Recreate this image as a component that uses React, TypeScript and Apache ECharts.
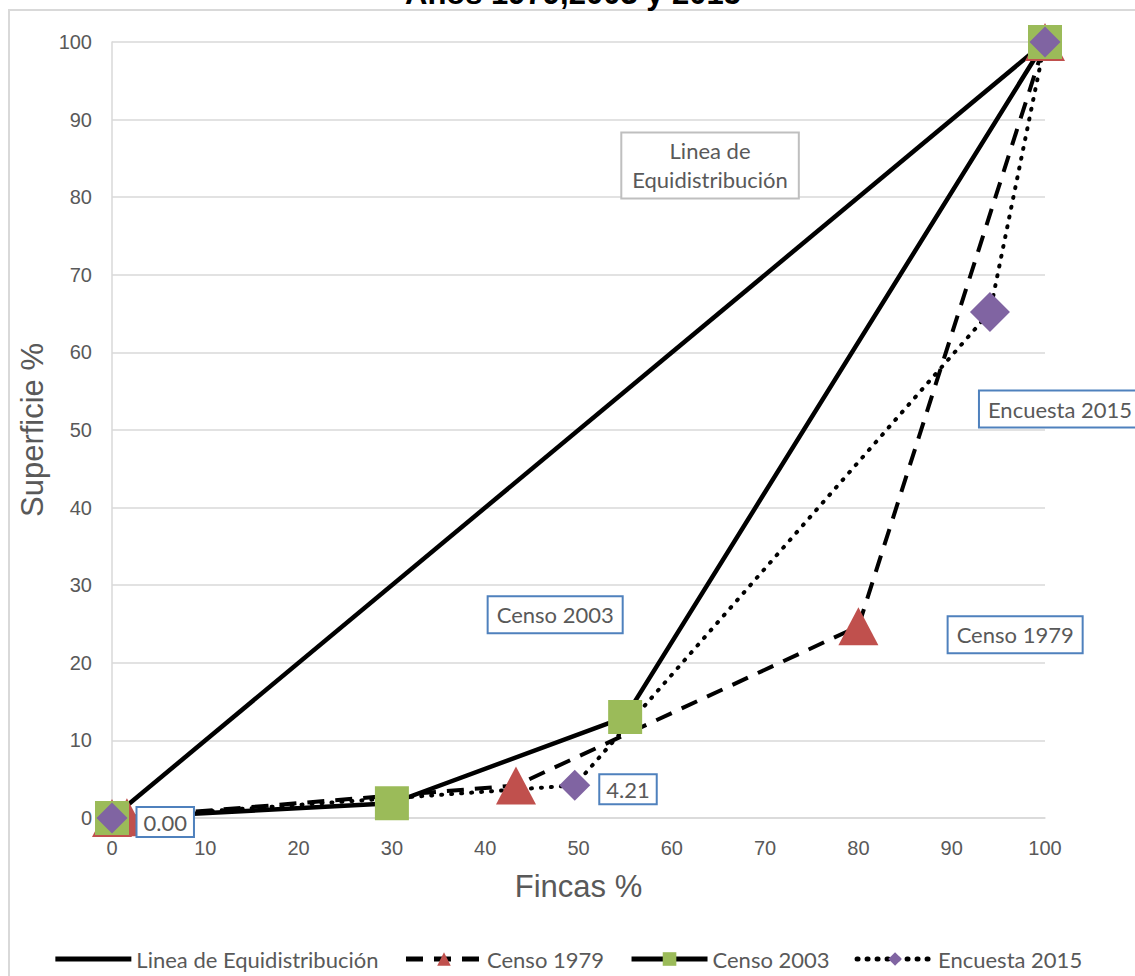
import React, { useEffect, useRef } from "react";
import * as echarts from "echarts";

// ---- data ----
const axisTicks = [0, 10, 20, 30, 40, 50, 60, 70, 80, 90, 100];
const seriesNames = ["Linea de Equidistribución", "Censo 1979", "Censo 2003", "Encuesta 2015"];

const equiX = [0, 100];
const equiY = [0, 100];

const censo1979X = [0, 1.6, 43.3, 80, 100];
const censo1979Y = [0, 0.1, 4.2, 24.7, 100];

const censo2003X = [0, 30, 55, 100];
const censo2003Y = [0, 1.9, 13, 100];

const encuesta2015X = [0, 49.6, 94.1, 100];
const encuesta2015Y = [0, 4.21, 65.2, 100];
const encuestaLabelled = [true, true, false, false];
const encuestaSizes = [31, 31, 40, 31];

const titleText = "Años 1979,2003 y 2015";
const xName = "Fincas %";
const yName = "Superficie %";

const GREY = "#595959";
const CAL = "Lato, 'Open Sans', sans-serif";
const ARIAL = "'Liberation Sans', Arial, sans-serif";

function pairs(xs: number[], ys: number[]) {
  return xs.map((x, i) => [x, ys[i]]);
}

function boxLabel(text: string, border: string, extra: any = {}) {
  return {
    show: true,
    position: "inside",
    formatter: text,
    color: GREY,
    fontFamily: CAL,
    fontSize: 22,
    lineHeight: 29,
    align: "center",
    backgroundColor: "#ffffff",
    borderColor: border,
    borderWidth: 2,
    padding: [3, 8],
    ...extra,
  };
}

export default function App() {
  const ref = useRef<HTMLDivElement>(null);

  useEffect(() => {
    if (!ref.current) return;
    const chart = echarts.init(ref.current, undefined, { renderer: "svg" });

    const option: any = {
      animation: false,
      backgroundColor: "#ffffff",
      title: {
        text: titleText,
        left: 405,
        top: -22,
        padding: 0,
        textStyle: { fontFamily: ARIAL, fontSize: 31, fontWeight: "bold", color: "#000" },
      },
      graphic: [
        {
          type: "rect",
          silent: true,
          z: -10,
          shape: { x: 9, y: 10, width: 1200, height: 1000 },
          style: { fill: "none", stroke: "#d9d9d9", lineWidth: 2 },
        },
      ],
      grid: { left: 112, right: 90, top: 42, bottom: 158, containLabel: false },
      legend: {
        data: [
          { name: seriesNames[0], itemStyle: { opacity: 0 }, lineStyle: { width: 5 } },
          { name: seriesNames[1], lineStyle: { width: 5 } },
          { name: seriesNames[2], lineStyle: { width: 5 } },
          { name: seriesNames[3], lineStyle: { width: 5 } },
        ],
        left: "center",
        top: 943,
        itemWidth: 76,
        itemHeight: 17,
        itemGap: 25,
        textStyle: { fontFamily: CAL, fontSize: 22, color: GREY },
      },
      xAxis: {
        type: "value",
        min: axisTicks[0],
        max: axisTicks[axisTicks.length - 1],
        interval: 10,
        name: xName,
        nameLocation: "middle",
        nameGap: 53,
        nameTextStyle: { fontFamily: ARIAL, fontSize: 31, color: GREY },
        axisLine: { show: true, lineStyle: { color: "#d9d9d9", width: 1.5 } },
        axisTick: { show: false },
        axisLabel: { fontFamily: ARIAL, fontSize: 20, color: GREY, margin: 20 },
        splitLine: { show: false },
      },
      yAxis: {
        type: "value",
        min: axisTicks[0],
        max: axisTicks[axisTicks.length - 1],
        interval: 10,
        name: yName,
        nameLocation: "middle",
        nameGap: 62,
        nameTextStyle: { fontFamily: ARIAL, fontSize: 31, color: GREY },
        axisLine: { show: true, lineStyle: { color: "#d9d9d9", width: 1.5 } },
        axisTick: { show: false },
        axisLabel: { fontFamily: ARIAL, fontSize: 20, color: GREY, margin: 20 },
        splitLine: { show: true, lineStyle: { color: "#d9d9d9", width: 1.5 } },
      },
      series: [
        {
          name: seriesNames[0],
          type: "line",
          data: pairs(equiX, equiY),
          showSymbol: false,
          symbol: "none",
          lineStyle: { color: "#000", width: 4.5, type: "solid" },
          itemStyle: { color: "#000" },
          markPoint: {
            symbol: "rect",
            symbolSize: 1,
            itemStyle: { color: "rgba(0,0,0,0)" },
            silent: true,
            data: [
              {
                coord: [64.1, 84.1],
                label: boxLabel("Linea de\nEquidistribución", "#bfbfbf", { padding: [3, 10] }),
              },
            ],
          },
        },
        {
          name: seriesNames[1],
          type: "line",
          data: pairs(censo1979X, censo1979Y),
          symbol: "triangle",
          symbolSize: [40, 38],
          lineStyle: { color: "#000", width: 4, type: [17, 11] },
          itemStyle: { color: "#c0504d" },
          markPoint: {
            symbol: "rect",
            symbolSize: 1,
            itemStyle: { color: "rgba(0,0,0,0)" },
            silent: true,
            data: [{ coord: [96.8, 23.6], label: boxLabel("Censo 1979", "#4f81bd") }],
          },
        },
        {
          name: seriesNames[2],
          type: "line",
          data: pairs(censo2003X, censo2003Y),
          symbol: "rect",
          symbolSize: 34,
          lineStyle: { color: "#000", width: 4.5, type: "solid" },
          itemStyle: { color: "#9bbb59" },
          markPoint: {
            symbol: "rect",
            symbolSize: 1,
            itemStyle: { color: "rgba(0,0,0,0)" },
            silent: true,
            data: [{ coord: [47.5, 26.2], label: boxLabel("Censo 2003", "#4f81bd") }],
          },
        },
        {
          name: seriesNames[3],
          type: "line",
          data: encuesta2015X.map((x, i) => ({
            value: [x, encuesta2015Y[i]],
            symbolSize: encuestaSizes[i],
            label: {
              show: encuestaLabelled[i],
              position: "right",
              distance: 10,
              offset: [0, 4],
              formatter: (p: any) => p.value[1].toFixed(2),
              color: GREY,
              fontFamily: CAL,
              fontSize: 22,
              backgroundColor: "#ffffff",
              borderColor: "#4f81bd",
              borderWidth: 2,
              padding: [3, 6],
            },
          })),
          symbol: "diamond",
          lineStyle: { color: "#000", width: 4, type: [1, 9], cap: "round" },
          itemStyle: { color: "#8064a2" },
          markPoint: {
            symbol: "rect",
            symbolSize: 1,
            itemStyle: { color: "rgba(0,0,0,0)" },
            silent: true,
            data: [
              {
                coord: [100, 52.7],
                label: boxLabel("Encuesta 2015", "#4f81bd", { offset: [15, 0] }),
              },
            ],
          },
        },
      ],
    };

    chart.setOption(option);
    return () => chart.dispose();
  }, []);

  return (
    <div
      ref={ref}
      style={{ position: "fixed", left: 0, top: 0, width: 1135, height: 976, background: "#fff" }}
    />
  );
}
